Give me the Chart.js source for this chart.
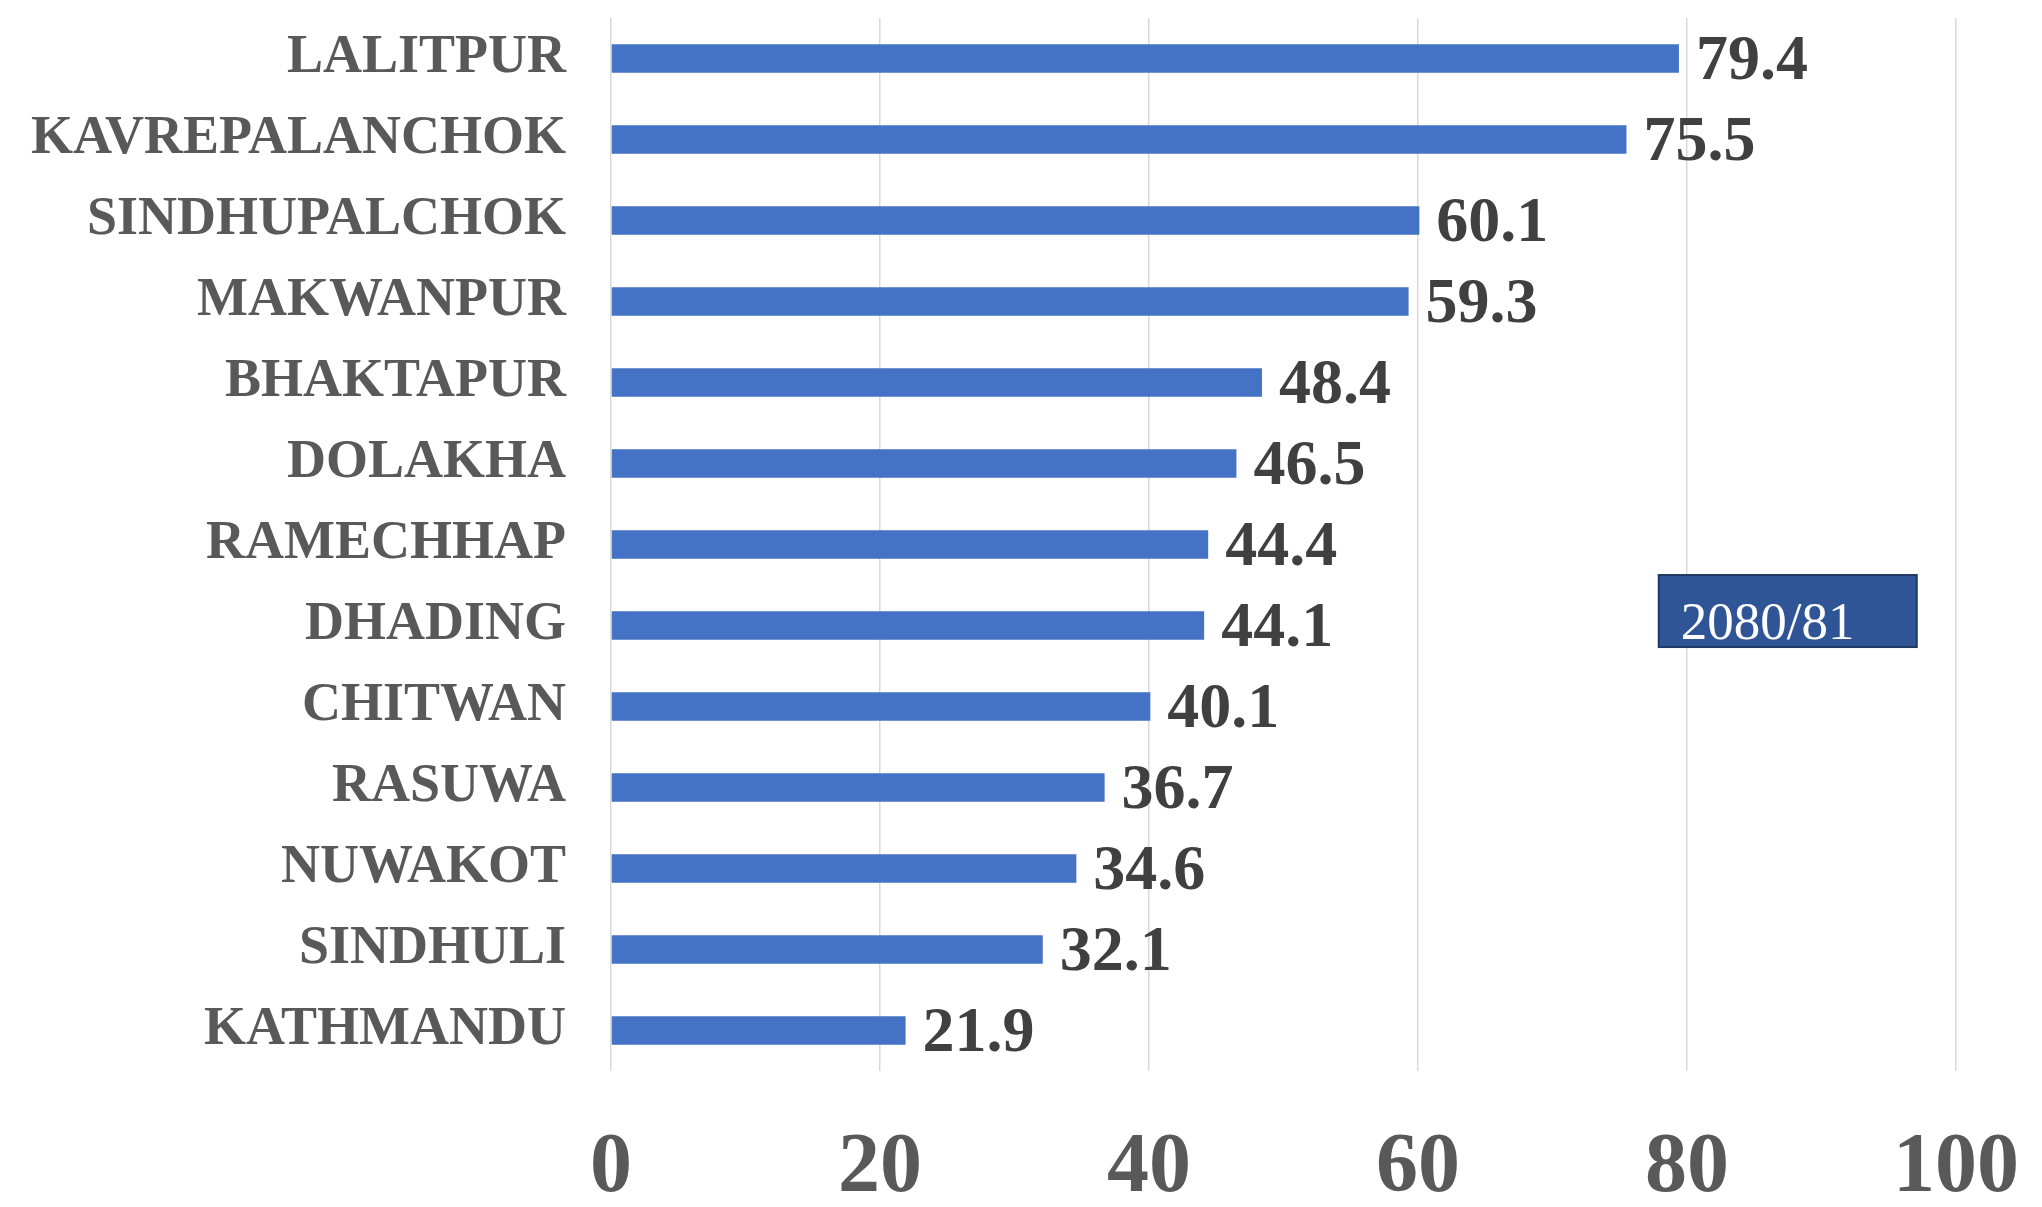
<!DOCTYPE html>
<html>
<head>
<meta charset="utf-8">
<script src="https://cdn.jsdelivr.net/npm/chart.js@4"></script>
<style>
  html, body { margin: 0; padding: 0; background: #ffffff; }
  #wrap { width: 2042px; height: 1207px; }
</style>
</head>
<body>
<div id="wrap"><canvas id="myChart" width="2042" height="1207"></canvas></div>
<script>
// =====================
// Data
// =====================
const districts = [
    "LALITPUR", "KAVREPALANCHOK", "SINDHUPALCHOK", "MAKWANPUR", "BHAKTAPUR",
    "DOLAKHA", "RAMECHHAP", "DHADING", "CHITWAN", "RASUWA",
    "NUWAKOT", "SINDHULI", "KATHMANDU"
];
const values = [79.4, 75.5, 60.1, 59.3, 48.4, 46.5, 44.4, 44.1, 40.1, 36.7, 34.6, 32.1, 21.9];
const seriesName = "2080/81";
const xTicks = [0, 20, 40, 60, 80, 100];

const serif = "'Liberation Serif', 'Times New Roman', serif";

// =====================
// Value labels at bar ends
// =====================
const valueLabels = {
    id: 'valueLabels',
    afterDatasetsDraw(chart) {
        const ctx = chart.ctx;
        const meta = chart.getDatasetMeta(0);
        ctx.save();
        ctx.font = "bold 64px " + serif;
        ctx.fillStyle = "#404040";
        ctx.textAlign = "left";
        ctx.textBaseline = "middle";
        meta.data.forEach((bar, i) => {
            ctx.fillText(values[i].toFixed(1), bar.x + 17, bar.y + 4);
        });
        ctx.restore();
    }
};

// =====================
// Series box (legend-like label)
// =====================
const seriesBox = {
    id: 'seriesBox',
    afterDraw(chart) {
        const ctx = chart.ctx;
        const area = chart.chartArea;
        const x = area.left + (area.right - area.left) * 0.779;
        const y = area.top + (area.bottom - area.top) * 0.529;
        const w = 258, h = 72;
        ctx.save();
        ctx.fillStyle = "#2F5597";
        ctx.fillRect(x, y, w, h);
        ctx.strokeStyle = "#1F3864";
        ctx.lineWidth = 2;
        ctx.strokeRect(x, y, w, h);
        ctx.font = "53px " + serif;
        ctx.fillStyle = "#ffffff";
        ctx.textAlign = "left";
        ctx.textBaseline = "alphabetic";
        ctx.fillText(chart.data.datasets[0].label, x + 22, y + 64);
        ctx.restore();
    }
};

const ctx = document.getElementById('myChart').getContext('2d');
const chart = new Chart(ctx, {
    type: 'bar',
    data: {
        labels: districts,
        datasets: [{
            label: seriesName,
            data: values,
            backgroundColor: '#4472C4',
            borderWidth: 0,
            categoryPercentage: 1.0,
            barPercentage: 0.35
        }]
    },
    options: {
        indexAxis: 'y',
        responsive: false,
        animation: false,
        layout: {
            padding: { left: 0, right: 86, top: 18, bottom: 0 }
        },
        plugins: {
            legend: { display: false },
            tooltip: { enabled: false },
            title: { display: false }
        },
        scales: {
            x: {
                min: 0,
                max: 100,
                afterBuildTicks: scale => {
                    scale.ticks = xTicks.map(v => ({ value: v }));
                },
                afterFit: scale => {
                    scale.height = 136;
                    scale.paddingLeft = 0;
                    scale.paddingRight = 0;
                },
                grid: {
                    color: '#d9d9d9',
                    lineWidth: 1.5,
                    drawTicks: false
                },
                border: { display: false },
                ticks: {
                    padding: 48,
                    color: '#595959',
                    font: { family: serif, size: 84, weight: 'bold' },
                    maxRotation: 0
                }
            },
            y: {
                afterFit: scale => {
                    scale.width = 611;
                    scale.paddingTop = 0;
                    scale.paddingBottom = 0;
                },
                grid: { display: false, drawTicks: false },
                border: { display: false },
                ticks: {
                    padding: 45,
                    color: '#595959',
                    font: { family: serif, size: 54, weight: 'bold' }
                }
            }
        }
    },
    plugins: [valueLabels, seriesBox]
});
</script>
</body>
</html>
